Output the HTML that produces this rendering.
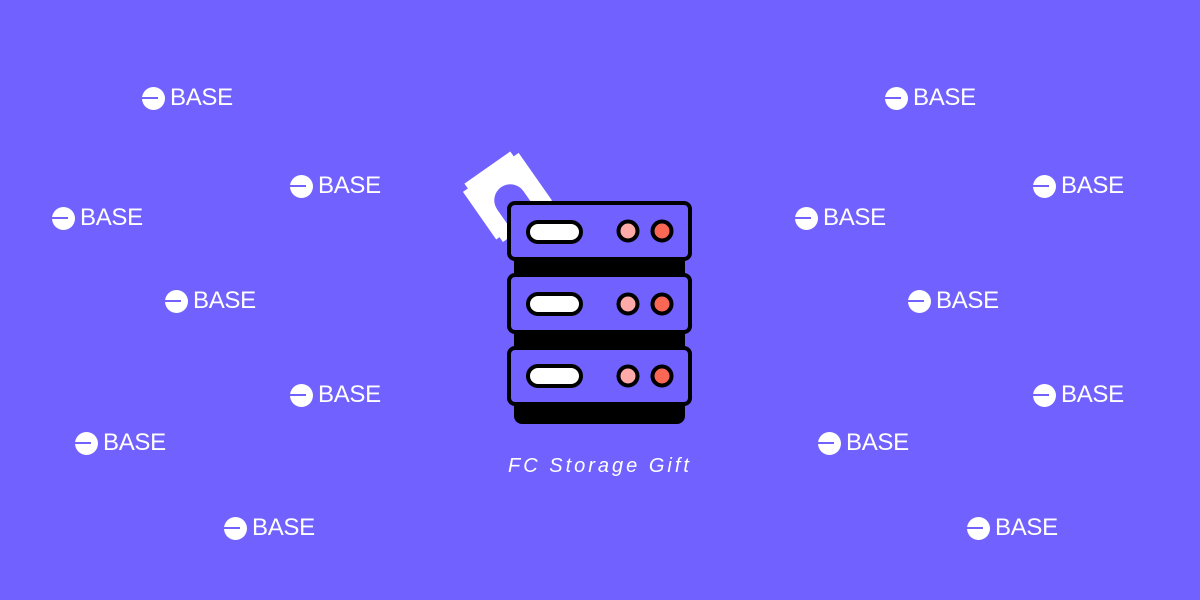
<!DOCTYPE html>
<html><head><style>
body{margin:0;width:1200px;height:600px;background:#7161FF;position:relative;overflow:hidden;font-family:"Liberation Sans",sans-serif}
.b{position:absolute;height:24px;display:flex;align-items:center;color:#fff;font-size:24px;line-height:24px;letter-spacing:-0.3px}
.b i{display:inline-block;width:23px;height:23px;border-radius:50%;background:#fff;position:relative;margin-right:5px}
.b i:after{content:"";position:absolute;left:0;top:10px;width:16px;height:2.5px;background:#7161FF}
</style></head><body>
<div class="b" style="left:142px;top:86px"><i></i>BASE</div>
<div class="b" style="left:290px;top:174px"><i></i>BASE</div>
<div class="b" style="left:52px;top:206px"><i></i>BASE</div>
<div class="b" style="left:165px;top:289px"><i></i>BASE</div>
<div class="b" style="left:290px;top:383px"><i></i>BASE</div>
<div class="b" style="left:75px;top:431px"><i></i>BASE</div>
<div class="b" style="left:224px;top:516px"><i></i>BASE</div>
<div class="b" style="left:885px;top:86px"><i></i>BASE</div>
<div class="b" style="left:1033px;top:174px"><i></i>BASE</div>
<div class="b" style="left:795px;top:206px"><i></i>BASE</div>
<div class="b" style="left:908px;top:289px"><i></i>BASE</div>
<div class="b" style="left:1033px;top:383px"><i></i>BASE</div>
<div class="b" style="left:818px;top:431px"><i></i>BASE</div>
<div class="b" style="left:967px;top:516px"><i></i>BASE</div>
<svg width="1200" height="600" style="position:absolute;left:0;top:0">
<g transform="translate(508 197) rotate(-35)">
<path d="M-28 -36 h56 v6 h6 v58 h-4 v6 h-14 v-30 a16 16 0 0 0 -32 0 v30 h-14 v-6 h-4 v-58 h6 z" fill="#fff"/>
</g>
<rect x="514" y="250" width="171" height="174" rx="8" fill="#000"/>
<g stroke="#000" stroke-width="4">
<rect x="509" y="203" width="181" height="56" rx="6" fill="#7161FF"/>
<rect x="509" y="275" width="181" height="57" rx="6" fill="#7161FF"/>
<rect x="509" y="348" width="181" height="56" rx="6" fill="#7161FF"/>
<rect x="528" y="222" width="53" height="20" rx="10" fill="#fff"/>
<rect x="528" y="294" width="53" height="20" rx="10" fill="#fff"/>
<rect x="528" y="366" width="53" height="20" rx="10" fill="#fff"/>
<circle cx="628" cy="231" r="9.5" fill="#FFA9A9"/><circle cx="662" cy="231" r="9.5" fill="#FA6855"/>
<circle cx="628" cy="304" r="9.5" fill="#FFA9A9"/><circle cx="662" cy="304" r="9.5" fill="#FA6855"/>
<circle cx="628" cy="376" r="9.5" fill="#FFA9A9"/><circle cx="662" cy="376" r="9.5" fill="#FA6855"/>
</g>
<text x="600" y="472" text-anchor="middle" fill="#fff" font-family="Liberation Sans,sans-serif" font-style="italic" font-size="20" letter-spacing="3">FC  Storage  Gift</text>
</svg>
</body></html>
